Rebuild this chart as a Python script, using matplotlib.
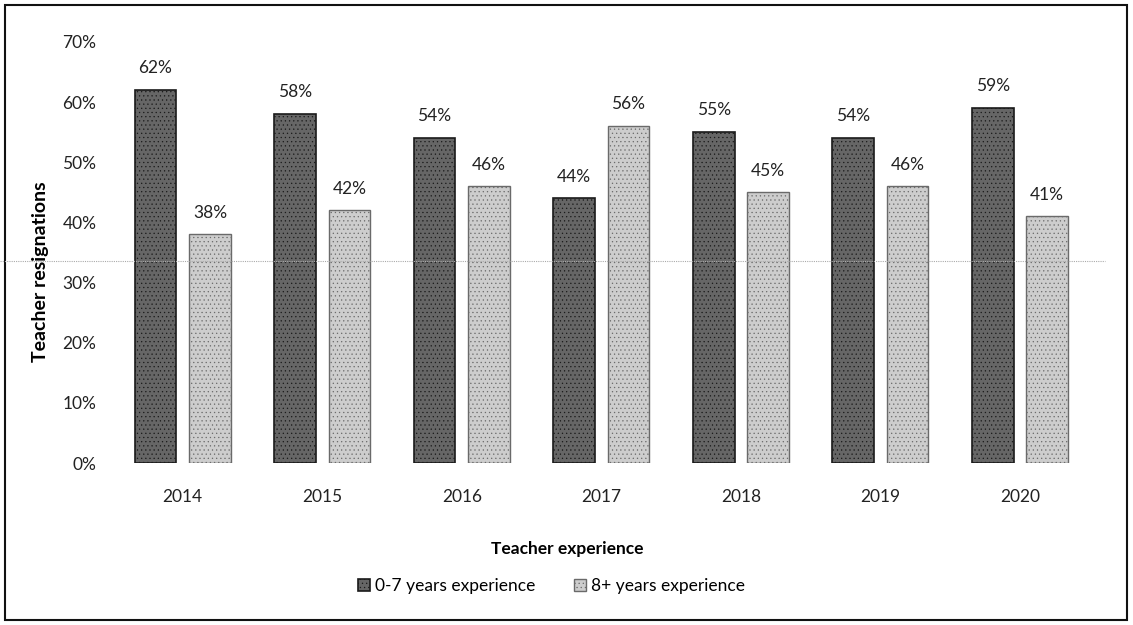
import matplotlib
matplotlib.use("Agg")
import matplotlib.pyplot as plt
import numpy as np
from matplotlib.patches import Rectangle
from matplotlib.lines import Line2D

years = ["2014", "2015", "2016", "2017", "2018", "2019", "2020"]
novice = [62, 58, 54, 44, 55, 54, 59]
veteran = [38, 42, 46, 56, 45, 46, 41]
series_names = ["0-7 years experience", "8+ years experience"]
yticks = [0, 10, 20, 30, 40, 50, 60, 70]

plt.rcParams['font.family'] = ['Lato', 'DejaVu Sans']
plt.rcParams['hatch.linewidth'] = 0.4

fig = plt.figure(figsize=(11.33, 6.25), dpi=100)
ax = fig.add_axes([0.0997, 0.2592, 0.862, 0.6736])

x = np.arange(len(years))
w = 0.30
off = 0.195
plt.rcParams['hatch.color'] = '#3a3a3a'
b1 = ax.bar(x - off, novice, w, color='#666666', edgecolor='#1a1a1a', linewidth=1.2,
            hatch='....', label=series_names[0])
b2 = ax.bar(x + off, veteran, w, color='#cdcdcd', edgecolor='#555555', linewidth=1.0,
            label=series_names[1])
for r in b2:
    r.set_hatch('....')
    r.set_edgecolor('#6a6a6a')

for xi, v in zip(x - off, novice):
    ax.text(xi, v + 2.3, f"{v}%", ha='center', va='bottom', fontsize=12.5, color='#222')
for xi, v in zip(x + off, veteran):
    ax.text(xi, v + 2.3, f"{v}%", ha='center', va='bottom', fontsize=12.5, color='#222')

ax.set_ylim(0, 70)
ax.set_xlim(-0.5, len(years) - 0.5)
ax.set_yticks(yticks)
ax.set_yticklabels([f"{t}%" for t in yticks], fontsize=12.5, color='#222')
ax.set_xticks(x)
ax.set_xticklabels(years, fontsize=12.5, color='#222')
ax.tick_params(length=0, pad=12)
ax.tick_params(axis='x', pad=19)
for s in ax.spines.values():
    s.set_visible(False)

ax.set_ylabel("Teacher resignations", fontsize=14, fontweight='bold', va='center')
ax.yaxis.set_label_coords(-0.0747, 0.454)
ax.set_xlabel("Teacher experience", fontsize=12.5, fontweight='bold', va='center')
ax.xaxis.set_label_coords(0.465, -0.204)

leg = fig.legend(handles=[b1, b2], labels=series_names, loc='center',
                 bbox_to_anchor=(0.487, 0.062), ncol=2, frameon=False, fontsize=12.5,
                 handlelength=0.7, handleheight=0.7, handletextpad=0.3, columnspacing=2.2)

# outer frame
fig.add_artist(Rectangle((5/1133, 5/625), 1122/1133, 615/625, transform=fig.transFigure,
                         fill=False, edgecolor='#111', linewidth=1.5))
# faint scan line
fig.add_artist(Line2D([0.0, 0.975], [1 - 261/625, 1 - 261/625], transform=fig.transFigure,
                      color='#aaaaaa', linewidth=0.8, linestyle=(0, (1, 1))))

fig.savefig("out.png", dpi=100)
